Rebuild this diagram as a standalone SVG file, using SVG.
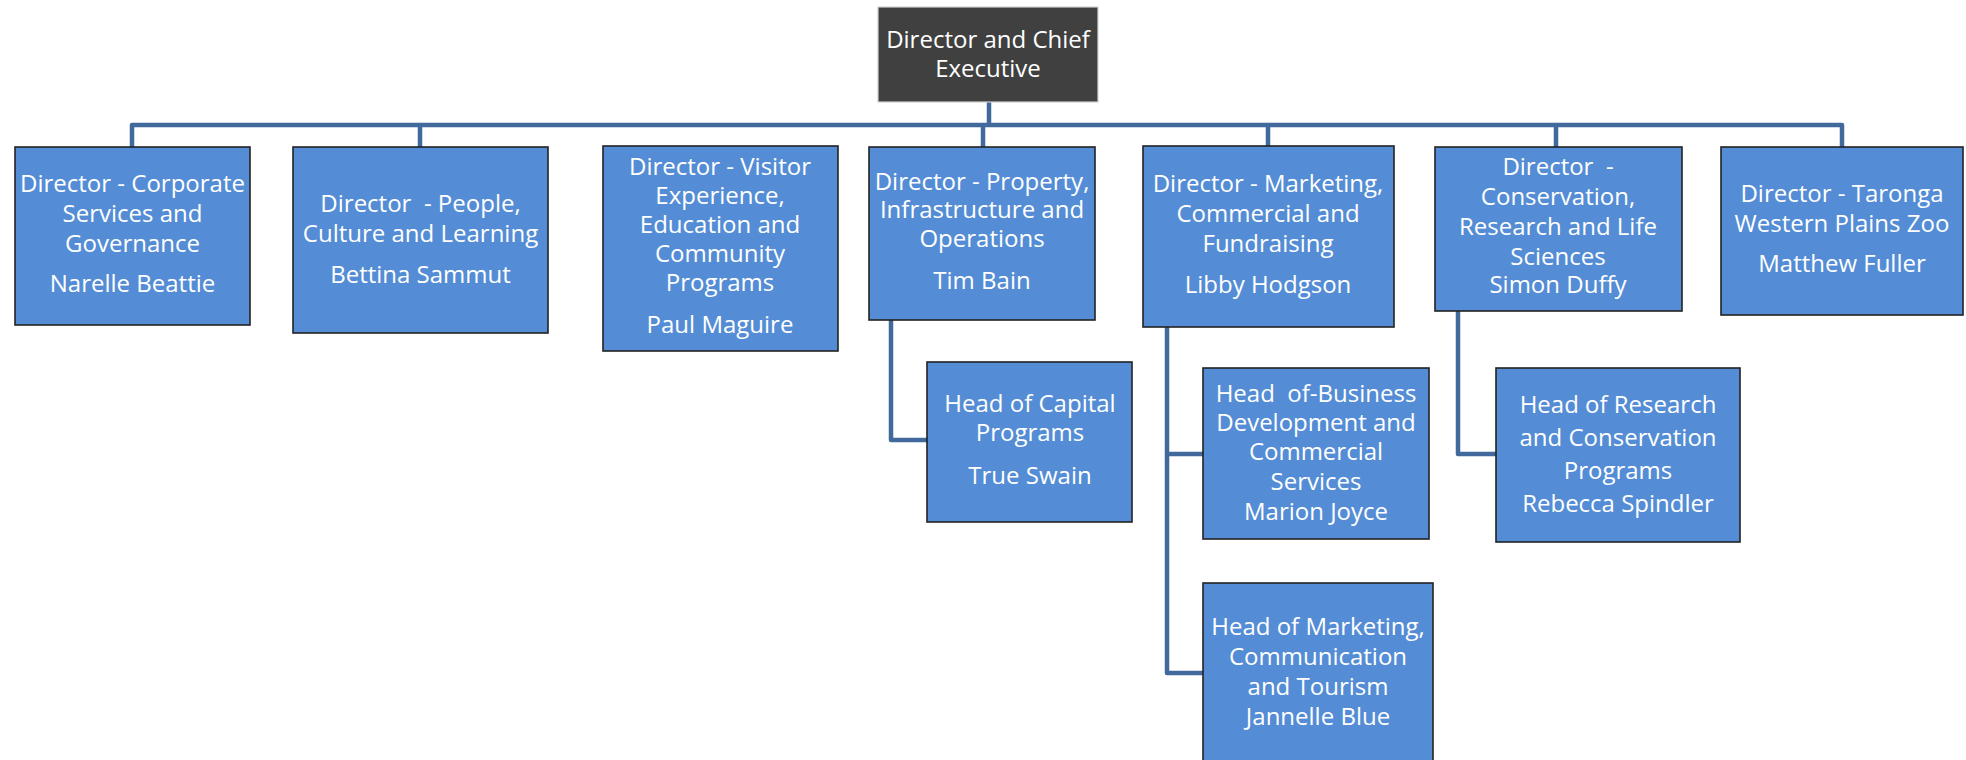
<svg xmlns="http://www.w3.org/2000/svg" width="1966" height="760" viewBox="0 0 1966 760">
<style>
.box{fill:#548dd5;stroke:#222;stroke-width:1.6}
.top{fill:#404040;stroke:#d0d0d0;stroke-width:1.2}
.t{font-family:"Open Sans","Liberation Sans",sans-serif;font-size:24px;fill:#fff;text-anchor:middle;white-space:pre}
.c{fill:none;stroke:#41699c;stroke-width:4.5;stroke-linejoin:round;stroke-linecap:butt}
</style>
<rect width="1966" height="760" fill="#fff"/>
<g id="connectors">
<path class="c" d="M989 102V125"/>
<path class="c" d="M132 147V125H1842V147"/>
<path class="c" d="M420 125V147"/>
<path class="c" d="M983 125V147"/>
<path class="c" d="M1268 125V146"/>
<path class="c" d="M1556 125V147"/>
<path class="c" d="M891 320V440H927"/>
<path class="c" d="M1167 327V673H1203"/>
<path class="c" d="M1167 454H1203"/>
<path class="c" d="M1458 311V454H1496"/>
</g>
<g id="ceo">
<rect class="top" x="878" y="7" width="220" height="95"/>
<text class="t" x="988" y="48">Director and Chief</text>
<text class="t" x="988" y="77">Executive</text>
</g>
<g id="corporate">
<rect class="box" x="15" y="147" width="235" height="178"/>
<text class="t" x="132.5" y="192">Director - Corporate</text>
<text class="t" x="132.5" y="222">Services and</text>
<text class="t" x="132.5" y="252">Governance</text>
<text class="t" x="132.5" y="292">Narelle Beattie</text>
</g>
<g id="people">
<rect class="box" x="293" y="147" width="255" height="186"/>
<text class="t" x="420.5" y="212">Director  - People,</text>
<text class="t" x="420.5" y="242">Culture and Learning</text>
<text class="t" x="420.5" y="283">Bettina Sammut</text>
</g>
<g id="visitor">
<rect class="box" x="603" y="146" width="235" height="205"/>
<text class="t" x="720" y="175">Director - Visitor</text>
<text class="t" x="720" y="204">Experience,</text>
<text class="t" x="720" y="233">Education and</text>
<text class="t" x="720" y="262">Community</text>
<text class="t" x="720" y="291">Programs</text>
<text class="t" x="720" y="333">Paul Maguire</text>
</g>
<g id="property">
<rect class="box" x="869" y="147" width="226" height="173"/>
<text class="t" x="982" y="190">Director - Property,</text>
<text class="t" x="982" y="218">Infrastructure and</text>
<text class="t" x="982" y="247">Operations</text>
<text class="t" x="982" y="289">Tim Bain</text>
</g>
<g id="marketing">
<rect class="box" x="1143" y="146" width="251" height="181"/>
<text class="t" x="1268" y="192">Director - Marketing,</text>
<text class="t" x="1268" y="222">Commercial and</text>
<text class="t" x="1268" y="252">Fundraising</text>
<text class="t" x="1268" y="293">Libby Hodgson</text>
</g>
<g id="conservation">
<rect class="box" x="1435" y="147" width="247" height="164"/>
<text class="t" x="1558" y="175">Director  -</text>
<text class="t" x="1558" y="205">Conservation,</text>
<text class="t" x="1558" y="235">Research and Life</text>
<text class="t" x="1558" y="265">Sciences</text>
<text class="t" x="1558" y="293">Simon Duffy</text>
</g>
<g id="taronga">
<rect class="box" x="1721" y="147" width="242" height="168"/>
<text class="t" x="1842" y="202">Director - Taronga</text>
<text class="t" x="1842" y="232">Western Plains Zoo</text>
<text class="t" x="1842" y="272">Matthew Fuller</text>
</g>
<g id="capital">
<rect class="box" x="927" y="362" width="205" height="160"/>
<text class="t" x="1030" y="412">Head of Capital</text>
<text class="t" x="1030" y="441">Programs</text>
<text class="t" x="1030" y="484">True Swain</text>
</g>
<g id="business">
<rect class="box" x="1203" y="368" width="226" height="171"/>
<text class="t" x="1316" y="402">Head  of-Business</text>
<text class="t" x="1316" y="431">Development and</text>
<text class="t" x="1316" y="460">Commercial</text>
<text class="t" x="1316" y="490">Services</text>
<text class="t" x="1316" y="520">Marion Joyce</text>
</g>
<g id="head-marketing">
<rect class="box" x="1203" y="583" width="230" height="190"/>
<text class="t" x="1318" y="635">Head of Marketing,</text>
<text class="t" x="1318" y="665">Communication</text>
<text class="t" x="1318" y="695">and Tourism</text>
<text class="t" x="1318" y="725">Jannelle Blue</text>
</g>
<g id="research">
<rect class="box" x="1496" y="368" width="244" height="174"/>
<text class="t" x="1618" y="413">Head of Research</text>
<text class="t" x="1618" y="446">and Conservation</text>
<text class="t" x="1618" y="479">Programs</text>
<text class="t" x="1618" y="512">Rebecca Spindler</text>
</g>
</svg>
